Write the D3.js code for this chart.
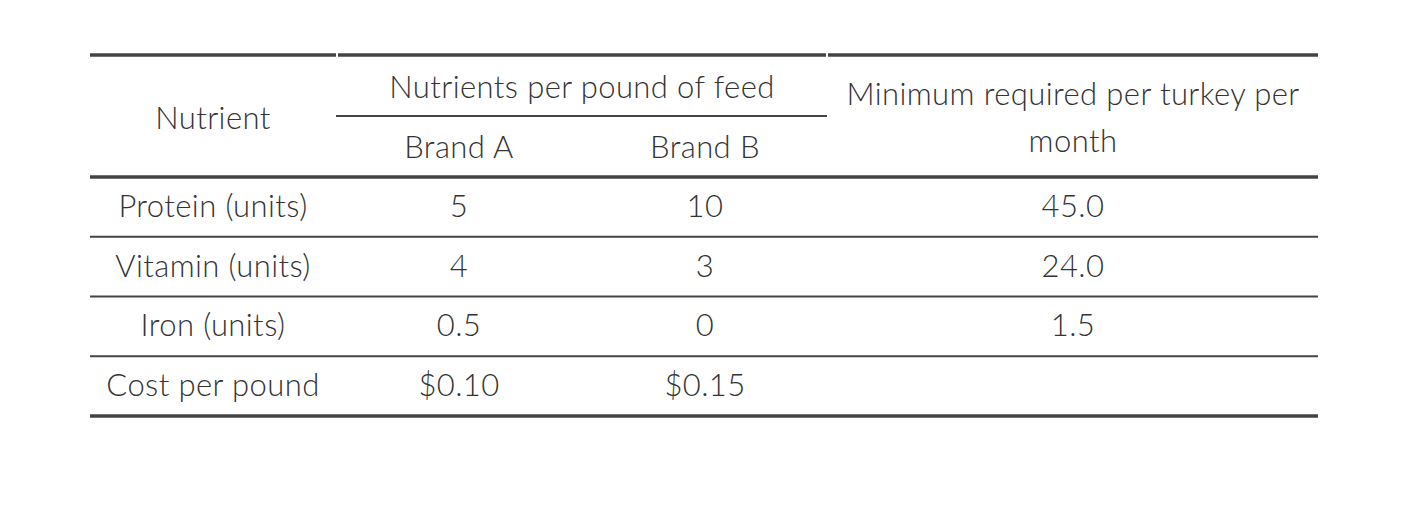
<!DOCTYPE html><html><head><meta charset="utf-8">
<script src="https://cdn.jsdelivr.net/npm/d3@7"></script>
<style>body{margin:0;background:#fff}text{font-family:Lato,sans-serif;fill:#333;font-size:31px;font-weight:300;letter-spacing:0.4px}</style></head><body>
<script>
const nutrients=["Protein (units)","Vitamin (units)","Iron (units)","Cost per pound"];
const brandA=["5","4","0.5","$0.10"];
const brandB=["10","3","0","$0.15"];
const minimum=["45.0","24.0","1.5",""];
const svg=d3.select("body").append("svg").attr("width",1412).attr("height",508);
const x=d3.scaleOrdinal().domain(["n","a","b","m"]).range([213,459,705,1073]);
const y=d3.scaleBand().domain(d3.range(4)).range([177,416]);
const line=(x1,x2,yy,w)=>svg.append("line").attr("x1",x1).attr("x2",x2).attr("y1",yy).attr("y2",yy).attr("stroke","#444").attr("stroke-width",w);
line(90,336,55,3.5);line(338,826,55,3.5);line(828,1318,55,3.5);
line(336,827,116,2);
line(90,1318,177,3.5);
[1,2,3].forEach(i=>line(90,1318,y(i),2));
line(90,1318,416,3.5);
const t=(s,xx,yy)=>svg.append("text").attr("x",xx).attr("y",yy).attr("text-anchor","middle").text(s);
t("Nutrient",x("n"),129);
t("Nutrients per pound of feed",582,98);
t("Brand A",x("a"),158);t("Brand B",x("b"),158);
t("Minimum required per turkey per",x("m"),105);t("month",x("m"),152);
nutrients.forEach((d,i)=>{const yy=y(i)+y.bandwidth()/2+10;
t(d,x("n"),yy);t(brandA[i],x("a"),yy);t(brandB[i],x("b"),yy);t(minimum[i],x("m"),yy);});
</script></body></html>
